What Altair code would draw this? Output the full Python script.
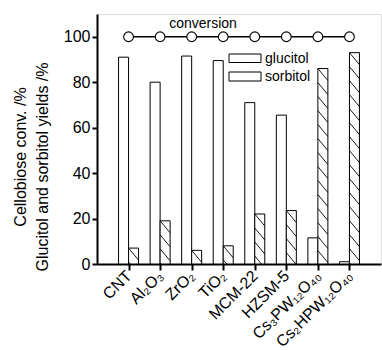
import altair as alt
import pandas as pd

# ---- data ----
catalysts = ["CNT", "Al₂O₃", "ZrO₂", "TiO₂", "MCM-22", "HZSM-5", "Cs₃PW₁₂O₄₀", "Cs₂HPW₁₂O₄₀"]
glucitol = [91, 80, 91.5, 89.5, 71, 65.5, 11.5, 1]
sorbitol = [7, 19, 6, 8, 22, 23.5, 86, 93]
conversion = [100, 100, 100, 100, 100, 100, 100, 100]

# ---- layout constants ----
W_PLOT, H_PLOT = 284, 250
X_MAX, Y_MAX = 9, 110
PX_X = W_PLOT / X_MAX
PX_Y = H_PLOT / Y_MAX
BW = 10 / PX_X  # bar width in data units
FONT = "Liberation Sans"

idx = list(range(1, len(catalysts) + 1))

bars = pd.DataFrame({
    "x0": [i - BW for i in idx] + [i for i in idx],
    "x1": [i for i in idx] + [i + BW for i in idx],
    "v": glucitol + sorbitol,
    "series": ["glucitol"] * len(idx) + ["sorbitol"] * len(idx),
})

conv = pd.DataFrame({"x": idx, "v": conversion})


def hatch(x0, x1, y0, y1, slope, spacing):
    """diagonal '\\' hatch segments clipped to a rectangle, in data units"""
    W = (x1 - x0) * PX_X
    H = (y1 - y0) * PX_Y
    segs = []
    k = -3
    while True:
        c = H - k * spacing
        if c < 0:
            break
        u_lo = max(0.0, (c - H) / slope)
        u_hi = min(W, c / slope)
        if u_hi - u_lo > 0.6:
            segs.append({
                "hx": x0 + u_lo / PX_X, "hy": y0 + (c - slope * u_lo) / PX_Y,
                "hx2": x0 + u_hi / PX_X, "hy2": y0 + (c - slope * u_hi) / PX_Y,
            })
        k += 1
    return segs


hsegs = []
for i, v in zip(idx, sorbitol):
    hsegs += hatch(i, i + BW, 0, v, 1.2, 14)

# legend (pixel layout converted to data units)
def dx(px):
    return (px - 97) / PX_X


def dy(py):
    return (264 - py) / PX_Y


leg = pd.DataFrame({
    "lx0": [dx(229), dx(229)], "lx1": [dx(261), dx(261)],
    "ly0": [dy(54), dy(72)], "ly1": [dy(62.5), dy(81)],
    "tx": [dx(265), dx(265)], "ty": [dy(58.5), dy(76.5)],
    "label": ["glucitol", "sorbitol"],
})
hsegs += hatch(dx(229), dx(261), dy(81), dy(72), 0.75, 7.5)
hatch_df = pd.DataFrame(hsegs)

xs = alt.Scale(domain=[0, X_MAX], nice=False, zero=False)
ys = alt.Scale(domain=[0, Y_MAX], nice=False)

label_expr = "[" + ",".join(f"'{c}'" for c in [""] + catalysts) + "][datum.value]"

bar_layer = alt.Chart(bars).mark_rect(fill="white", stroke="black", strokeWidth=1).encode(
    x=alt.X("x0:Q", scale=xs, axis=alt.Axis(
        values=idx, labelExpr=label_expr, labelAngle=-45, labelAlign="right",
        labelBaseline="middle", labelFontSize=16, labelFont=FONT, labelColor="black",
        tickSize=6, tickWidth=2, tickColor="black", domainColor="black", domainWidth=2,
        grid=False, title=None, labelPadding=3, labelFlush=False, labelOverlap=False)),
    x2="x1:Q",
    y=alt.Y("v:Q", scale=ys, axis=alt.Axis(
        values=[0, 20, 40, 60, 80, 100], labelFontSize=16, labelFont=FONT, labelColor="black",
        tickSize=5, tickWidth=2, tickColor="black", domainColor="black", domainWidth=2,
        grid=False, title=None, labelPadding=2)),
    y2=alt.datum(0),
)

hatch_layer = alt.Chart(hatch_df).mark_rule(color="black", strokeWidth=0.9).encode(
    x="hx:Q", y="hy:Q", x2="hx2:Q", y2="hy2:Q"
)

line_layer = alt.Chart(conv).mark_line(color="black", strokeWidth=1.3).encode(
    x="x:Q", y="v:Q"
)
point_layer = alt.Chart(conv).mark_point(
    shape="circle", filled=True, fill="white", stroke="black", strokeWidth=1.1, size=95, opacity=1
).encode(x="x:Q", y="v:Q")

conv_text = alt.Chart(pd.DataFrame({"t": ["conversion"]})).mark_text(
    font=FONT, fontSize=14, color="black", align="center", baseline="alphabetic"
).encode(x=alt.value(106), y=alt.value(14), text="t:N")

leg_box = alt.Chart(leg).mark_rect(fill="white", stroke="black", strokeWidth=1).encode(
    x="lx0:Q", x2="lx1:Q", y="ly0:Q", y2="ly1:Q"
)
leg_text = alt.Chart(leg).mark_text(
    font=FONT, fontSize=14, color="black", align="left", baseline="middle"
).encode(x="tx:Q", y="ty:Q", text="label:N")

title_df = pd.DataFrame({"t": ["Cellobiose conv. /%", "Glucitol and sorbitol yields /%"]})
ytitle1 = alt.Chart(title_df.iloc[[0]]).mark_text(
    font=FONT, fontSize=16, color="black", angle=270, align="center", baseline="middle"
).encode(x=alt.value(-76), y=alt.value(143), text="t:N")
ytitle2 = alt.Chart(title_df.iloc[[1]]).mark_text(
    font=FONT, fontSize=16, color="black", angle=270, align="center", baseline="middle"
).encode(x=alt.value(-54), y=alt.value(153), text="t:N")

chart = alt.layer(
    bar_layer, hatch_layer, line_layer, point_layer, conv_text, leg_box, leg_text, ytitle1, ytitle2
).properties(
    width=W_PLOT, height=H_PLOT,
    autosize=alt.AutoSizeParams(type="none"),
    padding={"left": 97, "top": 14, "right": 1, "bottom": 86},
).configure_view(stroke="black", strokeWidth=2).configure(background="white")

chart.save("out.html", embed_options={"renderer": "svg", "actions": False})
